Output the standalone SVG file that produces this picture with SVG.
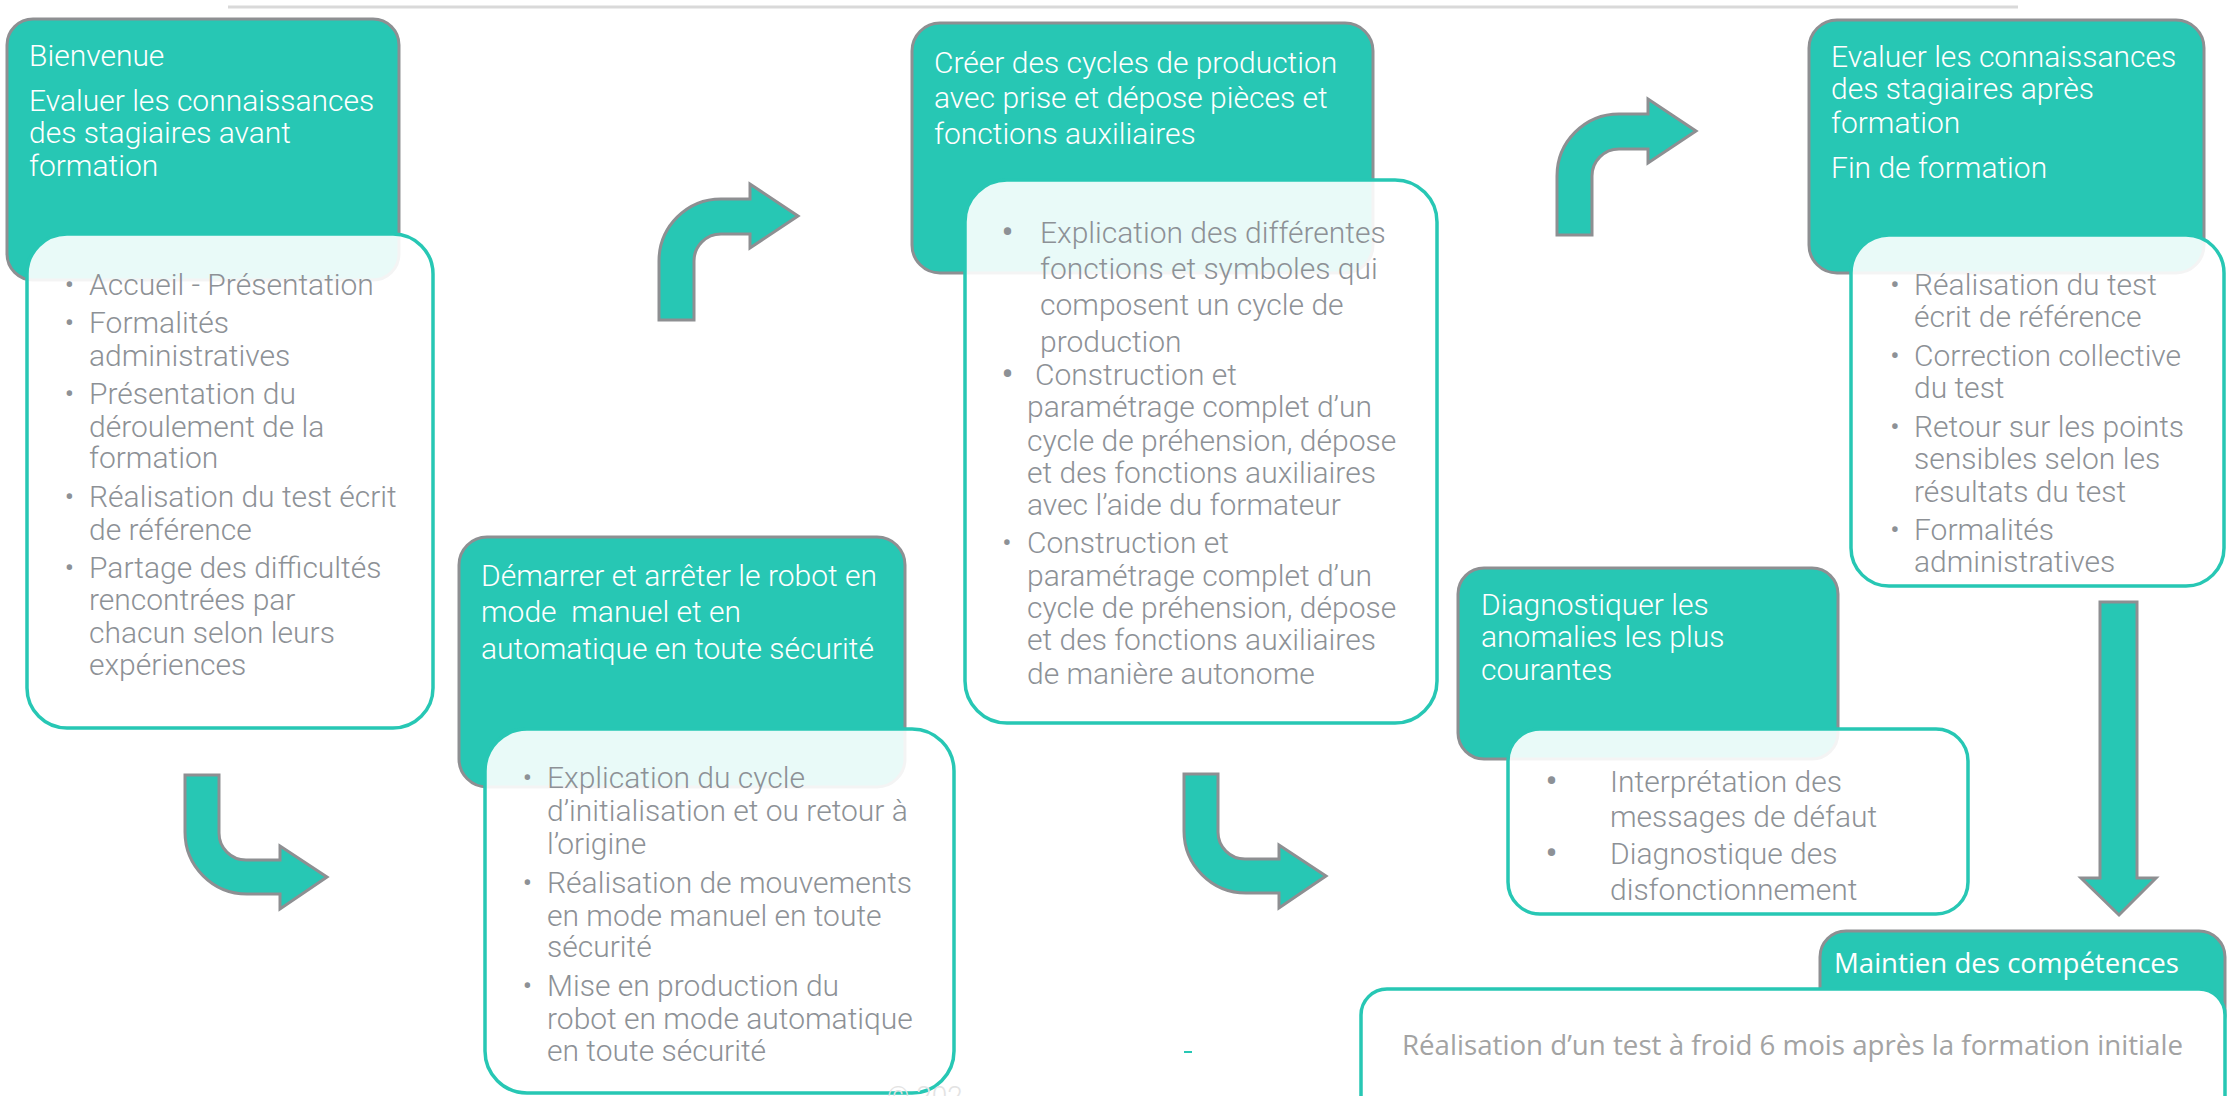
<svg xmlns="http://www.w3.org/2000/svg" width="2228" height="1096" viewBox="0 0 2228 1096">
<style>
.hdr{fill:#27c7b4;stroke:#8e8f92;stroke-width:3}
.bdy{fill:#ffffff;fill-opacity:0.9;stroke:#27c7b4;stroke-width:3.5}
.ht{font-family:Roboto,"Liberation Sans",sans-serif;font-weight:300;font-size:30px;fill:#ffffff}
.bt{font-family:Roboto,"Liberation Sans",sans-serif;font-weight:300;font-size:30px;fill:#8d9196}
.big{font-size:40px}
.arr{fill:#27c7b4;stroke:#8e8f92;stroke-width:3;stroke-linejoin:miter}
.os{font-family:"Open Sans","Liberation Sans",sans-serif}
</style>
<defs>
<path id="bentUp" d="M659,320 V261 A62,62 0 0 1 721,199 H750 V184 L798,216 L750,248 V234 H721 A27,27 0 0 0 694,261 V320 Z"/>
<path id="bentDown" d="M185,775 H219 V833 A27,27 0 0 0 246,860 H280 V846 L327,877 L280,909 V894 H247 A62,62 0 0 1 185,832 Z"/>
</defs>
<rect width="2228" height="1096" fill="#ffffff"/>
<line x1="228" y1="7" x2="2018" y2="7" stroke="#d9d9d9" stroke-width="3"/>

<g id="connectors">
<use href="#bentDown" class="arr"/>
<use href="#bentUp" class="arr"/>
<use href="#bentDown" class="arr" transform="translate(999,-1)"/>
<use href="#bentUp" class="arr" transform="translate(898,-85)"/>
<path class="arr" stroke="#a3a3a3" d="M2100,602 H2137 V878 H2156 L2119,915 L2081,878 H2100 Z"/>
</g>

<g id="node1">
<rect class="hdr" x="7" y="19" width="392" height="261" rx="26"/>
<text class="ht"><tspan x="29" y="66">Bienvenue</tspan><tspan x="29" y="111">Evaluer les connaissances</tspan><tspan x="29" y="143">des stagiaires avant</tspan><tspan x="29" y="176">formation</tspan></text>
<rect class="bdy" x="27" y="234" width="406" height="494" rx="40"/>
<text class="bt">
<tspan x="64.5" y="295">•</tspan><tspan x="89" y="295">Accueil - Présentation</tspan>
<tspan x="64.5" y="333">•</tspan><tspan x="89" y="333">Formalités</tspan><tspan x="89" y="366">administratives</tspan>
<tspan x="64.5" y="404">•</tspan><tspan x="89" y="404">Présentation du</tspan><tspan x="89" y="437">déroulement de la</tspan><tspan x="89" y="468">formation</tspan>
<tspan x="64.5" y="507">•</tspan><tspan x="89" y="507">Réalisation du test écrit</tspan><tspan x="89" y="540">de référence</tspan>
<tspan x="64.5" y="578">•</tspan><tspan x="89" y="578">Partage des difficultés</tspan><tspan x="89" y="610">rencontrées par</tspan><tspan x="89" y="643">chacun selon leurs</tspan><tspan x="89" y="675">expériences</tspan>
</text>
</g>

<g id="node2">
<rect class="hdr" x="459" y="537" width="446" height="250" rx="28"/>
<text class="ht" style="white-space:pre"><tspan x="481" y="586">Démarrer et arrêter le robot en</tspan><tspan x="481" y="622">mode  manuel et en</tspan><tspan x="481" y="659">automatique en toute sécurité</tspan></text>
<rect class="bdy" x="485" y="729" width="469" height="364" rx="42"/>
<text class="bt">
<tspan x="522.5" y="788">•</tspan><tspan x="547" y="788">Explication du cycle</tspan><tspan x="547" y="821">d’initialisation et ou retour à</tspan><tspan x="547" y="854">l’origine</tspan>
<tspan x="522.5" y="893">•</tspan><tspan x="547" y="893">Réalisation de mouvements</tspan><tspan x="547" y="926">en mode manuel en toute</tspan><tspan x="547" y="957">sécurité</tspan>
<tspan x="522.5" y="996">•</tspan><tspan x="547" y="996">Mise en production du</tspan><tspan x="547" y="1029">robot en mode automatique</tspan><tspan x="547" y="1061">en toute sécurité</tspan>
</text>
</g>

<g id="node3">
<rect class="hdr" x="912" y="23" width="461" height="250" rx="28"/>
<text class="ht"><tspan x="934" y="73">Créer des cycles de production</tspan><tspan x="934" y="108">avec prise et dépose pièces et</tspan><tspan x="934" y="144">fonctions auxiliaires</tspan></text>
<rect class="bdy" x="965" y="180" width="472" height="543" rx="42"/>
<text class="bt">
<tspan class="big" x="1001" y="246">•</tspan><tspan x="1040" y="243">Explication des différentes</tspan><tspan x="1040" y="279">fonctions et symboles qui</tspan><tspan x="1040" y="315">composent un cycle de</tspan><tspan x="1040" y="352">production</tspan>
<tspan class="big" x="1001" y="388">•</tspan><tspan x="1035" y="385">Construction et</tspan><tspan x="1027" y="417">paramétrage complet d’un</tspan><tspan x="1027" y="451">cycle de préhension, dépose</tspan><tspan x="1027" y="483">et des fonctions auxiliaires</tspan><tspan x="1027" y="515">avec l’aide du formateur</tspan>
<tspan x="1002" y="553">•</tspan><tspan x="1027" y="553">Construction et</tspan><tspan x="1027" y="586">paramétrage complet d’un</tspan><tspan x="1027" y="618">cycle de préhension, dépose</tspan><tspan x="1027" y="650">et des fonctions auxiliaires</tspan><tspan x="1027" y="684">de manière autonome</tspan>
</text>
</g>

<g id="node4">
<rect class="hdr" x="1458" y="568" width="380" height="191" rx="26"/>
<text class="ht"><tspan x="1481" y="615">Diagnostiquer les</tspan><tspan x="1481" y="647">anomalies les plus</tspan><tspan x="1481" y="680">courantes</tspan></text>
<rect class="bdy" x="1508" y="729" width="460" height="185" rx="32"/>
<text class="bt">
<tspan class="big" x="1545" y="795">•</tspan><tspan x="1610" y="792">Interprétation des</tspan><tspan x="1610" y="827">messages de défaut</tspan>
<tspan class="big" x="1545" y="867">•</tspan><tspan x="1610" y="864">Diagnostique des</tspan><tspan x="1610" y="900">disfonctionnement</tspan>
</text>
</g>

<g id="node5">
<rect class="hdr" x="1809" y="20" width="395" height="253" rx="28"/>
<text class="ht"><tspan x="1831" y="67">Evaluer les connaissances</tspan><tspan x="1831" y="99">des stagiaires après</tspan><tspan x="1831" y="133">formation</tspan><tspan x="1831" y="178">Fin de formation</tspan></text>
<rect class="bdy" x="1851" y="235" width="373" height="351" rx="38"/>
<text class="bt">
<tspan x="1890" y="295">•</tspan><tspan x="1914" y="295">Réalisation du test</tspan><tspan x="1914" y="327">écrit de référence</tspan>
<tspan x="1890" y="366">•</tspan><tspan x="1914" y="366">Correction collective</tspan><tspan x="1914" y="398">du test</tspan>
<tspan x="1890" y="437">•</tspan><tspan x="1914" y="437">Retour sur les points</tspan><tspan x="1914" y="469">sensibles selon les</tspan><tspan x="1914" y="502">résultats du test</tspan>
<tspan x="1890" y="540">•</tspan><tspan x="1914" y="540">Formalités</tspan><tspan x="1914" y="572">administratives</tspan>
</text>
</g>

<g id="node6">
<rect class="hdr" x="1820" y="931" width="405" height="110" rx="26"/>
<text class="os" x="1834" y="973" font-size="28" fill="#ffffff" textLength="345" lengthAdjust="spacingAndGlyphs">Maintien des compétences</text>
<rect class="bdy" x="1361" y="989" width="864" height="140" rx="26" style="fill-opacity:1"/>
<text class="os" x="1402" y="1055" font-size="28" fill="#a3a3a3" textLength="781" lengthAdjust="spacingAndGlyphs">Réalisation d’un test à froid 6 mois après la formation initiale</text>
</g>

<line x1="1184" y1="1052" x2="1192" y2="1052" stroke="#27c7b4" stroke-width="2"/>
<text x="887" y="1106" font-family="Roboto, sans-serif" font-weight="300" font-size="28" fill="#e3e3e3">© 202</text>
</svg>
